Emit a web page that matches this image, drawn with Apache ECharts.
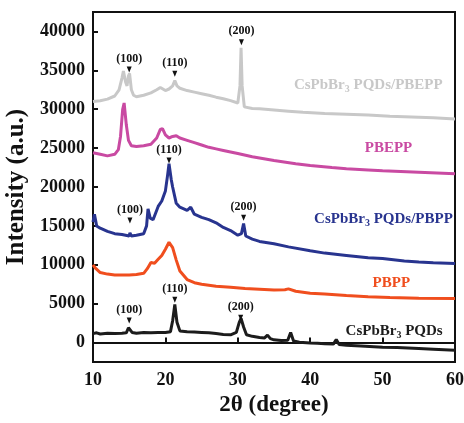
<!DOCTYPE html>
<html><head><meta charset="utf-8">
<script src="https://cdn.jsdelivr.net/npm/echarts@6/dist/echarts.min.js"></script>
<style>html,body{margin:0;padding:0;background:#fff}#c{width:464px;height:423px}</style>
</head><body><div id="c"></div>
<script>
// ---- data (2θ, intensity) ----
const pqd = [[10,1150],[10.5,1250],[11,1100],[12,1200],[13,1150],[14,1200],[14.6,1250],[14.9,1900],[15.1,2000],[15.4,1300],[16,1200],[17,1300],[18,1250],[19,1300],[20,1300],[20.7,1400],[21.0,2800],[21.3,4900],[21.6,2600],[22,1500],[23,1400],[24,1350],[25,1300],[26,1250],[27,1150],[28,1050],[29,1000],[29.8,1300],[30.2,2600],[30.45,3100],[30.8,2000],[31.2,1000],[32,800],[33,650],[33.7,600],[34.1,950],[34.5,500],[35,350],[36,250],[36.9,300],[37.3,1300],[37.7,200],[38.5,50],[40,-50],[41,-100],[42,-150],[43.2,-200],[43.6,400],[44,-250],[45,-350],[47,-450],[50,-600],[52,-650],[55,-750],[57,-850],[60,-1000]];
const pbpp = [[10,10000],[10.3,9600],[11,9000],[12,8800],[13,8700],[14,8700],[15,8700],[16,8750],[17,8900],[17.5,9500],[18,10300],[18.5,10200],[19,10700],[19.5,11200],[20,12000],[20.5,12900],[21,12200],[21.5,10600],[22,9200],[23,8100],[24,7700],[25,7500],[27,7250],[29,7100],[31,6950],[33,6850],[35,6750],[36.5,6800],[37,6900],[38,6600],[40,6350],[42,6250],[45,6050],[48,5900],[51,5800],[55,5700],[60,5650]];
const pqdPbpp = [[10,15500],[10.2,16500],[10.5,15000],[11,14700],[12,14300],[13,14000],[14,13900],[15,13700],[15.1,14100],[15.3,13700],[16,13800],[17,14000],[17.4,15000],[17.6,17200],[17.9,16000],[18.3,15800],[19,17500],[19.5,18200],[20,19500],[20.3,21500],[20.5,23000],[20.8,21000],[21,20000],[21.5,17900],[22,17400],[23,17000],[23.5,17400],[24,16500],[25,16100],[26,15800],[27,15400],[28,14800],[29,14400],[30,13800],[30.5,14000],[30.8,15300],[31.1,13700],[32,13300],[33,13000],[35,12700],[37,12300],[40,11800],[42,11500],[45,11200],[48,10900],[50,10800],[53,10500],[55,10350],[57,10250],[60,10150]];
const pbepp = [[10,24400],[11,24200],[12,24000],[13,24200],[13.5,24800],[13.8,26500],[14.1,30000],[14.3,30800],[14.6,28000],[14.9,26000],[15.3,25300],[16,25200],[17,25300],[18,25500],[18.8,26300],[19.3,27400],[19.6,27500],[20,26700],[20.5,26300],[21,26500],[21.5,26600],[22,26300],[23,26000],[24,25700],[25,25400],[26,25100],[27,24900],[28,24700],[30,24300],[32,23900],[35,23400],[38,23000],[40,22750],[43,22500],[45,22350],[48,22200],[50,22100],[55,21900],[60,21700]];
const pqdPbepp = [[10,31000],[11,31100],[12,31300],[13,31700],[13.6,32500],[14.0,34000],[14.2,34900],[14.5,33500],[14.7,33000],[14.9,34300],[15.05,34600],[15.3,32500],[15.6,31800],[16,31600],[17,31800],[18,32100],[18.8,32500],[19.3,32800],[20,32400],[20.5,32600],[21,33000],[21.3,33700],[21.6,33000],[22,32700],[23,32400],[24,32200],[25,32000],[26,31800],[27,31550],[28,31350],[29,31100],[30,30800],[30.3,33000],[30.45,37900],[30.6,33000],[30.9,30300],[32,30100],[33,30050],[35,29900],[37,29750],[39,29600],[42,29450],[45,29350],[48,29250],[51,29100],[54,29000],[57,28900],[60,28750]];

// peak annotations: [2θ, intensity, label]
const peaksPqd = [[15.0,2830,'(100)'],[21.3,5490,'(110)'],[30.4,3180,'(200)']];
const peaksPqdPbpp = [[15.1,15690,'(100)'],[20.5,23400,'(110)'],[30.8,16040,'(200)']];
const peaksPqdPbepp = [[15.0,35100,'(100)'],[21.3,34550,'(110)'],[30.5,38620,'(200)']];

// sample name labels: [2θ at right edge, intensity]
const namePqd = [58.3,1415];
const namePbpp = [53.8,7590];
const namePqdPbpp = [59.7,15820];
const namePbepp = [54.1,24950];
const namePqdPbepp = [58.3,33050];

const xTicks = [10,20,30,40,50,60];
const yTicks = [0,5000,10000,15000,20000,25000,30000,35000,40000];

const FONT = '"Liberation Serif","Times New Roman",serif';
const tri = 'path://M0,0L10,0L5,10Z';

function peakMarks(peaks){
  return peaks.map(p => ({
    coord:[p[0],p[1]], name:p[2], symbol:tri, symbolSize:[5,6],
    itemStyle:{color:'#111'},
    label:{show:true, position:'top', distance:2, formatter:'{b}', color:'#111',
      fontFamily:FONT, fontWeight:'bold', fontSize:12}
  }));
}
function nameMark(pos, color, withSub, rest){
  const fmt = withSub ? '{a|CsPbBr}{s|3}{a|' + rest + '}' : '{a|' + rest + '}';
  return {
    coord:pos, symbol:'circle', symbolSize:0,
    label:{show:true, position:'left', distance:0, formatter:fmt,
      rich:{
        a:{color:color, fontFamily:FONT, fontWeight:'bold', fontSize:15, lineHeight:18},
        s:{color:color, fontFamily:FONT, fontWeight:'bold', fontSize:10, lineHeight:18, verticalAlign:'bottom', padding:[6,0,0,0]}
      }}
  };
}
function mkSeries(name, data, color, marks){
  return {
    name, type:'line', data, showSymbol:false, symbol:'none', smooth:false,
    lineStyle:{color, width:3}, itemStyle:{color}, silent:true, animation:false,
    markPoint:{silent:true, animation:false, data:marks}
  };
}

const chart = echarts.init(document.getElementById('c'), null, {renderer:'canvas'});
chart.setOption({
  animation:false,
  backgroundColor:'#fff',
  grid:{left:93, right:9, top:12, bottom:61, outerBoundsMode:'none', containLabel:false,
    show:true, borderColor:'#111', borderWidth:2},
  xAxis:{
    type:'value', min:10, max:60, interval:10,
    name:'2θ (degree)', nameLocation:'middle', nameGap:27,
    nameTextStyle:{fontFamily:FONT, fontWeight:'bold', fontSize:23, color:'#111'},
    axisLine:{show:true, lineStyle:{color:'#111', width:2}},
    axisTick:{show:true, inside:true, length:5, lineStyle:{color:'#111', width:2}},
    axisLabel:{show:true, margin:9, fontFamily:FONT, fontWeight:'bold', fontSize:18, color:'#111',
      customValues:xTicks, formatter:v => String(v)},
    splitLine:{show:false}
  },
  yAxis:{
    type:'value', min:-2500, max:42500,
    name:'Intensity (a.u.)', nameLocation:'middle', nameGap:52,
    nameTextStyle:{fontFamily:FONT, fontWeight:'bold', fontSize:25, color:'#111'},
    axisLine:{show:true, lineStyle:{color:'#111', width:2}},
    axisTick:{show:true, inside:true, length:5, lineStyle:{color:'#111', width:2}, customValues:yTicks},
    axisLabel:{show:true, margin:8, fontFamily:FONT, fontWeight:'bold', fontSize:18, color:'#111',
      customValues:yTicks, formatter:v => String(v)},
    splitLine:{show:false}
  },
  series:[
    mkSeries('CsPbBr3 PQDs', pqd, '#1c1c1c', peakMarks(peaksPqd).concat([nameMark(namePqd,'#1c1c1c',true,' PQDs')])),
    mkSeries('PBPP', pbpp, '#f04e1e', [nameMark(namePbpp,'#f04e1e',false,'PBPP')]),
    mkSeries('CsPbBr3 PQDs/PBPP', pqdPbpp, '#28348f', peakMarks(peaksPqdPbpp).concat([nameMark(namePqdPbpp,'#28348f',true,' PQDs/PBPP')])),
    mkSeries('PBEPP', pbepp, '#c94aa2', [nameMark(namePbepp,'#c94aa2',false,'PBEPP')]),
    mkSeries('CsPbBr3 PQDs/PBEPP', pqdPbepp, '#c8c8c8', peakMarks(peaksPqdPbepp).concat([nameMark(namePqdPbepp,'#c8c8c8',true,' PQDs/PBEPP')]))
  ]
});
</script>
</body></html>
